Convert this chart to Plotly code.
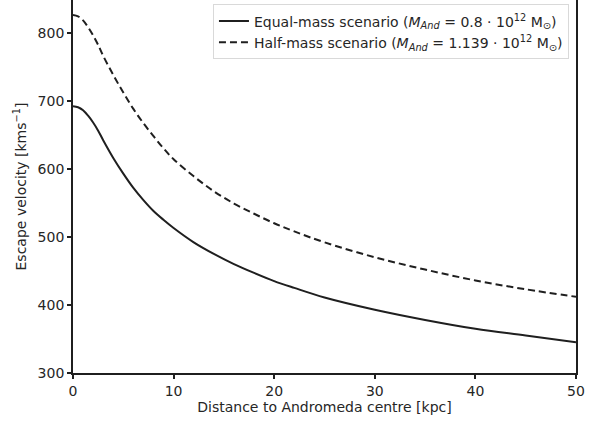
import plotly.graph_objects as go

distance_kpc = [0, 0.5, 1, 1.5, 2, 2.5, 3, 4, 5, 6, 7, 8, 9, 10, 12, 14, 16, 18, 20, 22, 25, 30, 35, 40, 45, 50]
v_equal_mass = [692, 690.5, 686, 678, 668, 656, 642, 616, 593, 572, 554, 538, 525, 513, 492, 475, 460, 447, 435, 425, 411, 393, 378, 365, 355, 345]
v_half_mass = [826, 824, 818, 808, 796, 782, 766, 738, 712, 688, 667, 648, 630, 614, 589, 567, 549, 534, 520, 508, 492, 470, 452, 436, 423, 412]

label_equal = "Equal-mass scenario (<i>M<sub>And</sub></i> = 0.8 · 10<sup>12</sup> M<sub>⊙</sub>)"
label_half = "Half-mass scenario (<i>M<sub>And</sub></i> = 1.139 · 10<sup>12</sup> M<sub>⊙</sub>)"

line_color = "#1f1f1f"
text_color = "#262626"
font_family = "DejaVu Sans"

fig = go.Figure()
fig.add_trace(go.Scatter(x=distance_kpc, y=v_equal_mass, mode="lines", name=label_equal,
                         line=dict(color=line_color, width=2, shape="spline", smoothing=1.0)))
fig.add_trace(go.Scatter(x=distance_kpc, y=v_half_mass, mode="lines", name=label_half,
                         line=dict(color=line_color, width=2, dash="7px,4px", shape="spline", smoothing=1.0)))

axis_common = dict(showgrid=False, zeroline=False, showline=True, linecolor=line_color, linewidth=1.8,
                   ticks="outside", ticklen=4, tickwidth=1.5, tickcolor=line_color,
                   tickfont=dict(family=font_family, size=14, color=text_color))

fig.update_layout(
    width=598, height=423,
    margin=dict(l=73, r=22, t=0, b=50),
    paper_bgcolor="white", plot_bgcolor="white",
    font=dict(family=font_family, size=14, color=text_color),
    xaxis=dict(range=[0, 50], tickvals=[0, 10, 20, 30, 40, 50], mirror=False,
               title=dict(text="Distance to Andromeda centre [kpc]", standoff=3,
                          font=dict(family=font_family, size=14, color=text_color)),
               **axis_common),
    yaxis=dict(range=[300, 848], tickvals=[300, 400, 500, 600, 700, 800], mirror=True,
               title=dict(text="Escape velocity [kms<sup>−1</sup>]", standoff=8,
                          font=dict(family=font_family, size=14, color=text_color)),
               **axis_common),
    legend=dict(x=0.986, y=0.988, xanchor="right", yanchor="top",
                bgcolor="rgba(255,255,255,0.9)", bordercolor="#d9d9d9", borderwidth=1,
                font=dict(family=font_family, size=14, color=text_color),
                tracegroupgap=0),
    showlegend=True,
)

fig.write_html("out.html", config={"displayModeBar": False},
               post_script="document.body.style.margin='0';document.body.style.overflow='hidden';")
